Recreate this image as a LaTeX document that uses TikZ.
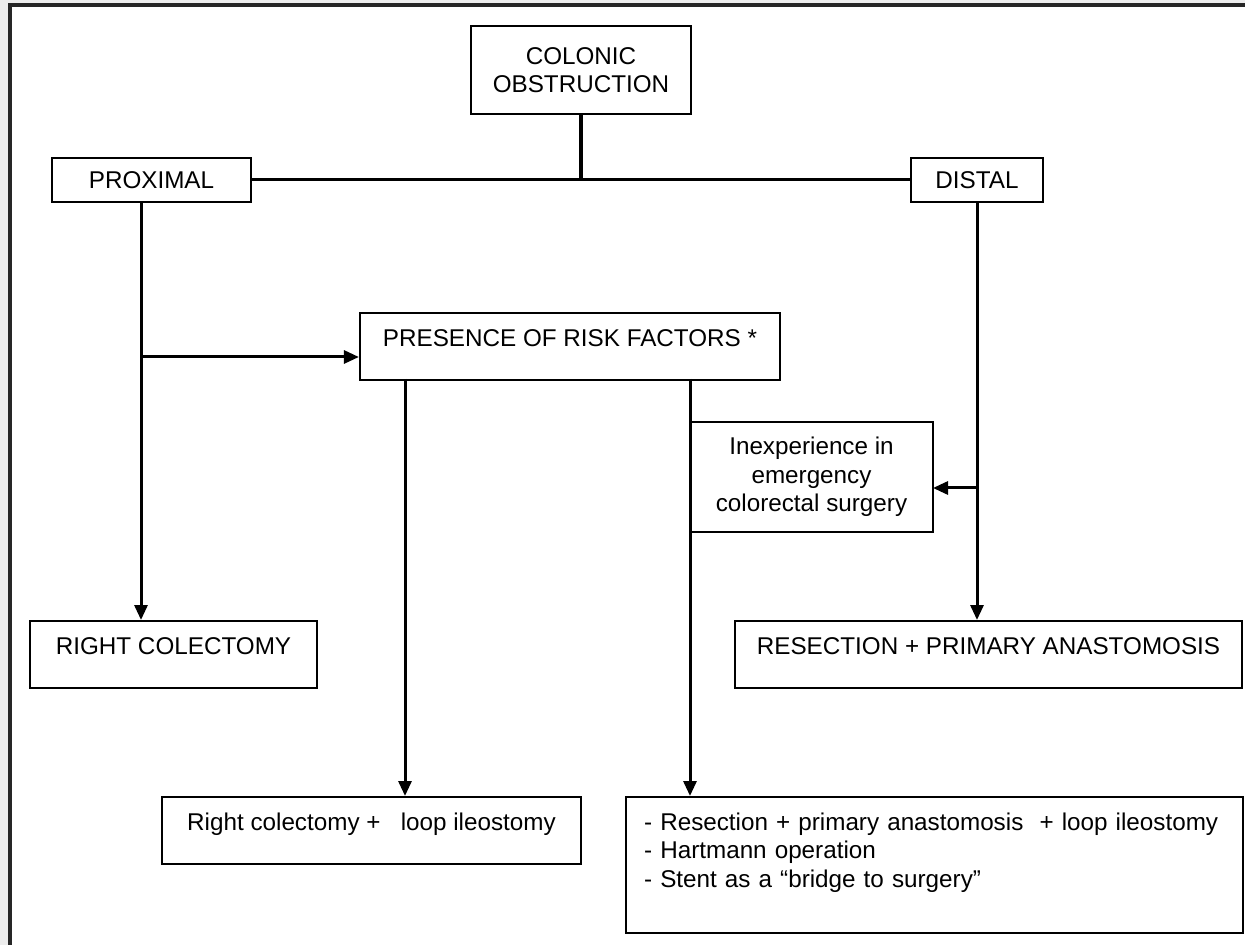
\documentclass[tikz,border=0pt]{standalone}
\usepackage{fontspec}
\setmainfont{Liberation Sans}
\usetikzlibrary{arrows.meta}

\begin{document}
\begin{tikzpicture}[
    x=0.02cm, y=-0.02cm,
    box node/.style={rectangle, draw=black, line width=0.045cm, inner sep=0pt, align=center, font=\fontsize{13.8}{16.2}\selectfont},
    top node/.style={box node, anchor=north, text height=0.66cm, text depth=0.68cm},
    list node/.style={box node, anchor=north west, align=left, inner xsep=0.36cm, text height=0.66cm, text depth=2.06cm},
    main edge/.style={line width=0.06cm, draw=black},
    arrow edge/.style={main edge, -{Triangle[length=0.3cm, width=0.26cm]}}
]
\useasboundingbox (0,0) rectangle (1245,945);

% frame, cut by the right and bottom edges
\fill[black!7] (0,0) rectangle (8,945);
\fill[black!7] (8,0) rectangle (1245,3);
\draw[line width=0.07cm, black!85] (10,945) -- (10,5) -- (1245,5);

% first split
\node[box node, minimum width=4.4cm, minimum height=1.76cm] (colonic) at (581,70) {COLONIC\\OBSTRUCTION};
\node[box node, minimum width=3.98cm, minimum height=0.88cm] (proximal) at (151.5,180) {PROXIMAL};
\node[box node, minimum width=2.64cm, minimum height=0.88cm] (distal) at (977,180) {DISTAL};

% risk factors and outcomes
\node[top node, minimum width=8.4cm] (risk) at (570,312) {PRESENCE OF RISK FACTORS *};
\node[top node, minimum width=5.74cm] (rightcol) at (173.5,620) {RIGHT COLECTOMY};
\node[top node, minimum width=10.14cm] (resect) at (988.5,620) {RESECTION + PRIMARY ANASTOMOSIS};
\node[top node, minimum width=8.38cm] (rcleo) at (371.5,796) {Right colectomy +\ \ \ loop ileostomy};
\node[list node, minimum width=12.34cm, text width=11.62cm] (options) at (625,796)
    {- Resection + primary anastomosis\ \ + loop ileostomy\\
     - Hartmann operation\\
     - Stent as a ``bridge to surgery''};
\node[box node, minimum width=4.86cm, minimum height=2.2cm] (inexp) at (811.5,477) {Inexperience in\\emergency\\colorectal surgery};

\coordinate (proxdrop) at (141,202);
\coordinate (proxfork) at (141,357);
\coordinate (riskL) at (405,379);
\coordinate (riskR) at (690,379);
\coordinate (inexpin) at (933,488);

% tree
\draw[main edge, line width=0.09cm] (colonic.south) -- (colonic.south |- proximal.east);
\draw[main edge] (proximal.east) -- (distal.west);

% proximal side
\draw[arrow edge] (proxdrop) -- (proxdrop |- rightcol.north);
\draw[arrow edge] (proxfork) -- (proxfork -| risk.west);
\draw[arrow edge] (riskL) -- (riskL |- rcleo.north);
\draw[arrow edge] (riskR) -- (riskR |- options.north);

% distal side
\draw[arrow edge] (distal.south) -- (distal.south |- resect.north);
\draw[arrow edge] (distal.south |- inexpin) -- (inexpin);

\end{tikzpicture}
\end{document}
